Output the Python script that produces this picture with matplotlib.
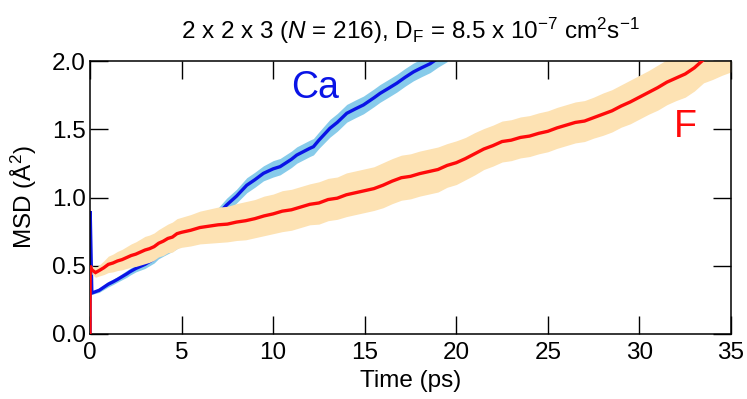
import matplotlib
matplotlib.use("Agg")
import matplotlib.pyplot as plt
import numpy as np

plt.rcParams['font.family'] = ['Liberation Sans', 'DejaVu Sans']
plt.rcParams['mathtext.fontset'] = 'custom'
plt.rcParams['mathtext.rm'] = 'Liberation Sans'
plt.rcParams['mathtext.it'] = 'Liberation Sans:italic'

# ---- data ----
f_time = [0, 0.01, 0.1, 0.3, 0.5, 0.75, 1.0, 1.25, 1.5, 1.75, 2.0, 2.25, 2.5, 2.75,
          3.0, 3.25, 3.5, 3.75, 4.0, 4.25, 4.5, 4.75, 5.0, 5.5, 6.0, 6.5, 7.0, 7.5,
          8.0, 8.5, 9.0, 9.5, 10.0, 10.5, 11.0, 11.5, 12.0, 12.5, 13.0, 13.5, 14.0,
          14.5, 15.0, 15.5, 16.0, 16.5, 17.0, 17.5, 18.0, 18.5, 19.0, 19.5, 20.0,
          20.5, 21.0, 21.5, 22.0, 22.5, 23.0, 23.5, 24.0, 24.5, 25.0, 25.5, 26.0,
          26.5, 27.0, 27.5, 28.0, 28.5, 29.0, 29.5, 30.0, 30.5, 31.0, 31.5, 32.0,
          32.5, 33.0, 33.5, 34.0, 34.5, 35.0]
f_msd = [0.0, 0.50, 0.47, 0.45, 0.465, 0.485, 0.51, 0.52, 0.535, 0.545, 0.56, 0.575,
         0.585, 0.60, 0.615, 0.625, 0.64, 0.665, 0.68, 0.70, 0.71, 0.735, 0.745,
         0.76, 0.78, 0.79, 0.80, 0.805, 0.82, 0.83, 0.845, 0.865, 0.88, 0.90, 0.91,
         0.93, 0.95, 0.96, 0.985, 0.995, 1.02, 1.035, 1.05, 1.065, 1.09, 1.12, 1.145,
         1.155, 1.175, 1.19, 1.205, 1.235, 1.255, 1.285, 1.32, 1.355, 1.38, 1.41,
         1.42, 1.44, 1.45, 1.47, 1.485, 1.51, 1.53, 1.55, 1.56, 1.585, 1.61, 1.635,
         1.67, 1.70, 1.735, 1.77, 1.805, 1.845, 1.875, 1.905, 1.95, 2.01, 2.04,
         2.07, 2.10]
f_err = [0.0, 0.02, 0.03, 0.035, 0.04, 0.05, 0.06, 0.065, 0.07, 0.075, 0.08, 0.085,
         0.09, 0.095, 0.10, 0.10, 0.10, 0.10, 0.105, 0.105, 0.11, 0.11, 0.11, 0.115,
         0.12, 0.125, 0.13, 0.13, 0.135, 0.14, 0.14, 0.145, 0.145, 0.15, 0.15, 0.15,
         0.15, 0.155, 0.155, 0.155, 0.16, 0.16, 0.16, 0.16, 0.165, 0.165, 0.165,
         0.165, 0.165, 0.165, 0.165, 0.16, 0.16, 0.155, 0.155, 0.15, 0.15, 0.15,
         0.15, 0.15, 0.15, 0.15, 0.15, 0.15, 0.15, 0.15, 0.15, 0.15, 0.155, 0.155,
         0.155, 0.16, 0.16, 0.16, 0.165, 0.165, 0.165, 0.17, 0.17, 0.17, 0.175,
         0.175, 0.18]

ca_time = [0, 0.01, 0.1, 0.5, 1.0, 1.27, 1.5, 2.0, 2.18, 2.5, 3.0, 3.5, 3.73, 4.0,
           4.5, 5.0, 5.5, 6.0, 6.5, 7.0, 7.46, 8.0, 8.56, 9.0, 9.47, 10.0, 10.38,
           11.0, 11.29, 12.0, 12.2, 12.5, 13.1, 13.5, 14.02, 14.5, 14.93, 15.5,
           15.84, 16.3, 16.75, 17.2, 17.66, 18.1, 18.57, 19.0, 19.5]
ca_msd = [0.0, 0.90, 0.30, 0.32, 0.365, 0.383, 0.40, 0.44, 0.456, 0.48, 0.51, 0.55,
          0.58, 0.60, 0.64, 0.68, 0.72, 0.77, 0.82, 0.88, 0.945, 1.01, 1.09, 1.13,
          1.177, 1.21, 1.226, 1.28, 1.311, 1.36, 1.372, 1.42, 1.507, 1.55, 1.617,
          1.65, 1.678, 1.73, 1.763, 1.80, 1.837, 1.88, 1.92, 1.95, 1.98, 2.02, 2.06]
ca_err = [0.0, 0.0, 0.01, 0.015, 0.02, 0.02, 0.02, 0.025, 0.025, 0.025, 0.03, 0.03,
          0.03, 0.03, 0.035, 0.035, 0.035, 0.04, 0.04, 0.045, 0.05, 0.05, 0.055,
          0.055, 0.055, 0.06, 0.06, 0.06, 0.06, 0.06, 0.06, 0.06, 0.065, 0.065,
          0.065, 0.065, 0.065, 0.065, 0.065, 0.065, 0.065, 0.065, 0.065, 0.065,
          0.065, 0.065, 0.065]

x_ticks = [0, 5, 10, 15, 20, 25, 30, 35]
y_ticks = [0.0, 0.5, 1.0, 1.5, 2.0]
y_tick_labels = ["0.0", "0.5", "1.0", "1.5", "2.0"]

# ---- figure ----
fig = plt.figure(figsize=(7.47, 3.99), dpi=100)
ax = fig.add_axes([90/747, 1-334/399, (731-90)/747, (334-61)/399])

ft = np.array(f_time); fm = np.array(f_msd); fe = np.array(f_err)
ct = np.array(ca_time); cm = np.array(ca_msd); ce = np.array(ca_err)

ax.fill_between(ct[2:], cm[2:] - ce[2:], cm[2:] + ce[2:], color='#87cbea', lw=0, zorder=1)
ax.plot(ct, cm, color='#0a14e6', lw=2.4, zorder=2, solid_joinstyle='miter')
ax.fill_between(ft[2:], fm[2:] - fe[2:], fm[2:] + fe[2:], color='#fde2b3', lw=0, zorder=3)
ax.plot(ft, fm, color='#ff0a0a', lw=2.4, zorder=4, solid_joinstyle='miter')

ax.set_xlim(0, 35)
ax.set_ylim(0, 2.0)
ax.set_xticks(x_ticks)
ax.set_yticks(y_ticks)
ax.set_yticklabels(y_tick_labels)
ax.tick_params(direction='in', length=13, width=1.0, top=True, right=True,
               labelsize=17.5)
ax.tick_params(axis='x', pad=6)
ax.tick_params(axis='y', pad=3)
for s in ax.spines.values():
    s.set_linewidth(1.1)
    s.set_zorder(3.5)

ax.set_xlabel("Time (ps)", fontsize=17.5, labelpad=4)
ax.set_ylabel("MSD (Å$^2$)", fontsize=17.5, labelpad=9)
ax.set_title("2 x 2 x 3 ($N$ = 216), D$_\\mathrm{F}$ = 8.5 x 10$^{-7}$ cm$^2$s$^{-1}$",
             fontsize=17.5, pad=16)

ax.text(12.3, 1.80, "Ca", color='#0a14e6', fontsize=27, ha='center', va='center')
ax.text(32.5, 1.52, "F", color='#ff0a0a', fontsize=27, ha='center', va='center')

fig.savefig("out.png", dpi=100)
